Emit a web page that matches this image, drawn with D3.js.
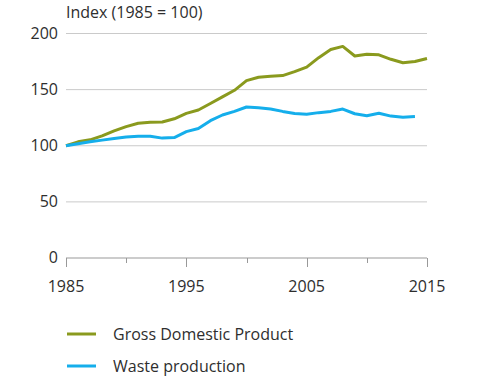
<!DOCTYPE html>
<html>
<head>
<meta charset="utf-8">
<script src="https://cdn.jsdelivr.net/npm/d3@7"></script>
<style>
  html, body { margin: 0; padding: 0; background: #fff; }
  svg { display: block; }
  text { font-family: "Open Sans", "Noto Sans", sans-serif; fill: #2e2e2e; }
</style>
</head>
<body>
<svg id="chart" width="477" height="377"></svg>
<script>
// Index values, 1985 = 100
const years = d3.range(1985, 2016);
const gdp = [100, 103.5, 105.3, 108.8, 113.2, 117, 120, 121, 121.2, 124, 128.8, 131.8, 137.6, 143.5, 149.4, 158,
             161, 162, 162.5, 166, 170, 178.5, 185.7, 188.5, 180, 181.5, 181, 177, 174, 175, 177.7];
const waste = [100, 101.8, 103.5, 105, 106.5, 107.7, 108.5, 108.5, 106.8, 107.3, 112.6, 115.3, 122.3, 127.4, 130.6, 134.5,
               133.8, 132.8, 130.6, 128.8, 128, 129.5, 130.6, 132.7, 128.5, 126.8, 129, 126.4, 125.3, 126];
const yTicks = [0, 50, 100, 150, 200];
const xTicks = [1985, 1990, 1995, 2000, 2005, 2010, 2015];
const xLabels = [1985, 1995, 2005, 2015];
const seriesNames = ["Gross Domestic Product", "Waste production"];
const seriesColors = ["#8a9a1e", "#15aeeb"];

const svg = d3.select("#chart");
const m = { left: 66, right: 50, top: 33.5, bottom: 119 };
const W = 477, H = 377;
const fs = 16;

const x = d3.scaleLinear().domain([1985, 2015]).range([m.left, W - m.right]);
const y = d3.scaleLinear().domain([0, 200]).range([H - m.bottom, m.top]);

// horizontal gridlines
svg.append("g")
  .selectAll("line")
  .data(yTicks.filter(d => d > 0))
  .join("line")
  .attr("x1", x(1985)).attr("x2", x(2015))
  .attr("y1", d => y(d)).attr("y2", d => y(d))
  .attr("stroke", "#cacaca").attr("stroke-width", 1);

// y tick labels
svg.append("g")
  .selectAll("text")
  .data(yTicks)
  .join("text")
  .attr("x", 58).attr("y", d => y(d))
  .attr("dy", "0.32em")
  .attr("text-anchor", "end")
  .attr("font-size", fs)
  .text(d => d);

// y title
svg.append("text")
  .attr("x", 66).attr("y", 18)
  .attr("font-size", fs)
  .text("Index (1985 = 100)");

// x axis baseline and ticks
const xAxis = svg.append("g").attr("stroke", "#999").attr("stroke-width", 1);
xAxis.append("line")
  .attr("x1", x(1985)).attr("x2", x(2015))
  .attr("y1", y(0)).attr("y2", y(0));
xAxis.selectAll("line.tick")
  .data(xTicks)
  .join("line")
  .attr("class", "tick")
  .attr("x1", d => Math.round(x(d)) + 0.5).attr("x2", d => Math.round(x(d)) + 0.5)
  .attr("y1", y(0)).attr("y2", d => y(0) + (xLabels.includes(d) ? 9 : 5));

svg.append("g")
  .selectAll("text")
  .data(xLabels)
  .join("text")
  .attr("x", d => x(d)).attr("y", y(0) + 34)
  .attr("text-anchor", "middle")
  .attr("font-size", fs)
  .text(d => d);

// series lines
const line = d3.line().x(d => x(d[0])).y(d => y(d[1]));
[gdp, waste].forEach((vals, i) => {
  svg.append("path")
    .datum(vals.map((v, j) => [years[j], v]))
    .attr("fill", "none")
    .attr("stroke", seriesColors[i])
    .attr("stroke-width", 3)
    .attr("stroke-linejoin", "round")
    .attr("d", line);
});

// legend
const legend = svg.append("g");
seriesNames.forEach((name, i) => {
  const ly = 334 + i * 32;
  legend.append("line")
    .attr("x1", 67).attr("x2", 96)
    .attr("y1", ly).attr("y2", ly)
    .attr("stroke", seriesColors[i]).attr("stroke-width", 3);
  legend.append("text")
    .attr("x", 113).attr("y", ly).attr("dy", "0.35em")
    .attr("font-size", fs)
    .text(name);
});
</script>
</body>
</html>
